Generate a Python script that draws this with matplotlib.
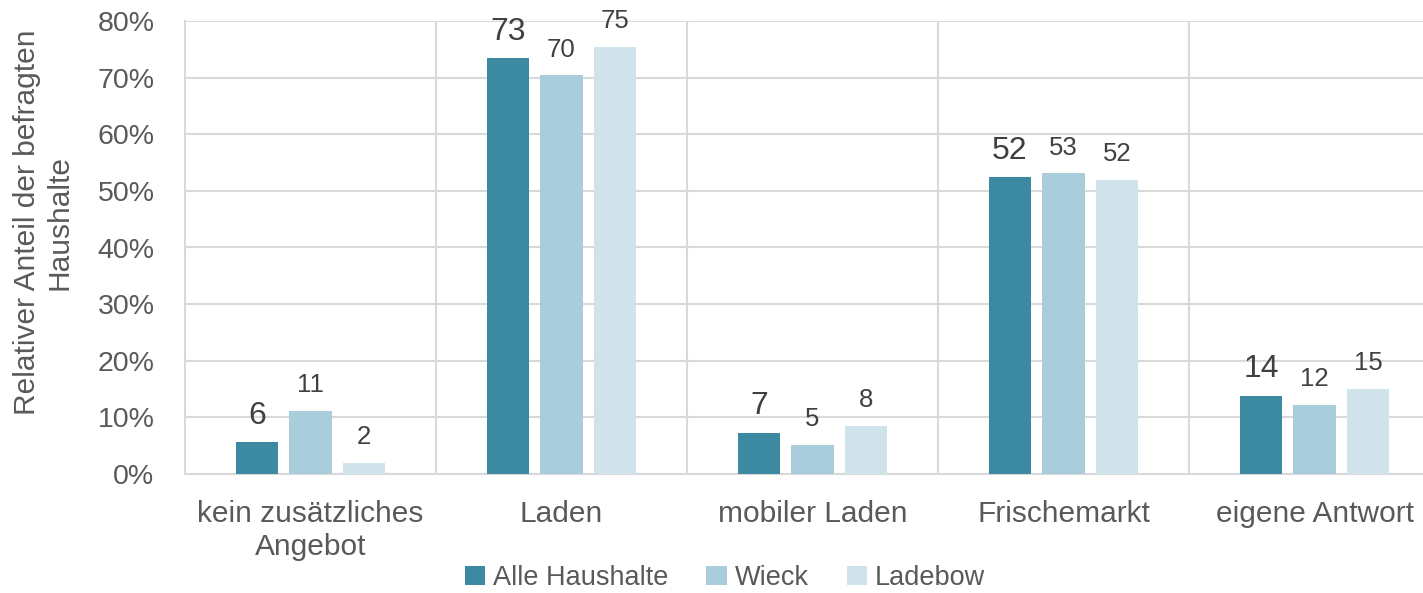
import numpy as np
import matplotlib
matplotlib.use('Agg')
import matplotlib.pyplot as plt
from matplotlib.ticker import FuncFormatter, FixedLocator

plt.rcParams['font.family'] = ['Liberation Sans', 'DejaVu Sans']

categories = ['kein zusätzliches\nAngebot', 'Laden', 'mobiler Laden', 'Frischemarkt', 'eigene Antwort']
series_names = ['Alle Haushalte', 'Wieck', 'Ladebow']
alle = [5.6, 73.4, 7.2, 52.4, 13.8]
wieck = [11.2, 70.4, 5.1, 53.1, 12.2]
ladebow = [1.9, 75.4, 8.5, 51.9, 15.0]
colors = ['#3B8AA1', '#A9CDDB', '#D0E3EA']

grid_col = '#D9D9D9'
tick_col = '#595959'
label_col = '#404040'

fig = plt.figure(figsize=(14.23, 5.93), dpi=100)
ax = fig.add_axes([185 / 1423, 119 / 593, 1255 / 1423, 453 / 593])

x = np.arange(len(categories))
offsets = [-0.213, 0.0, 0.213]
label_sizes = [23, 18.5, 18.5]
for vals, off, col, name, fs in zip([alle, wieck, ladebow], offsets, colors, series_names, label_sizes):
    bars = ax.bar(x + off, vals, width=0.168, color=col, label=name, zorder=3)
    for b, v in zip(bars, vals):
        ax.annotate('{:.0f}'.format(v), (b.get_x() + b.get_width() / 2, v),
                    xytext=(0, 13.5), textcoords='offset points',
                    ha='center', va='baseline', fontsize=fs, color=label_col)

ax.set_xlim(-0.5, len(categories) - 0.5)
ax.set_ylim(0, 80)
ax.set_yticks(np.arange(0, 81, 10))
ax.yaxis.set_major_formatter(FuncFormatter(lambda v, p: '{:.0f}%'.format(v)))
ax.set_xticks(x)
ax.set_xticklabels(categories)
ax.xaxis.set_minor_locator(FixedLocator(np.arange(0.5, len(categories) - 0.5, 1)))

ax.grid(axis='y', color=grid_col, linewidth=1.5, zorder=0)
ax.grid(axis='x', which='minor', color=grid_col, linewidth=1.5, zorder=0)
ax.tick_params(axis='both', which='both', length=0, colors=tick_col)
ax.tick_params(axis='y', labelsize=20.5, pad=22)
ax.tick_params(axis='x', labelsize=21.5, pad=19)

for side in ['top', 'right']:
    ax.spines[side].set_visible(False)
for side in ['left', 'bottom']:
    ax.spines[side].set_color(grid_col)
    ax.spines[side].set_linewidth(1.5)

fig.text(43 / 1423, 1 - 222 / 593, 'Relativer Anteil der befragten\nHaushalte',
         rotation=90, ha='center', va='center', multialignment='center',
         fontsize=21.5, color=tick_col)

leg = fig.legend(loc='center', bbox_to_anchor=(725 / 1423, 1 - 578 / 593), ncol=3,
                 frameon=False, fontsize=19.5, handlelength=0.75, handleheight=0.75,
                 handletextpad=0.3, columnspacing=1.4, borderaxespad=0)
for t in leg.get_texts():
    t.set_color(tick_col)

fig.savefig('out.png', dpi=100)
